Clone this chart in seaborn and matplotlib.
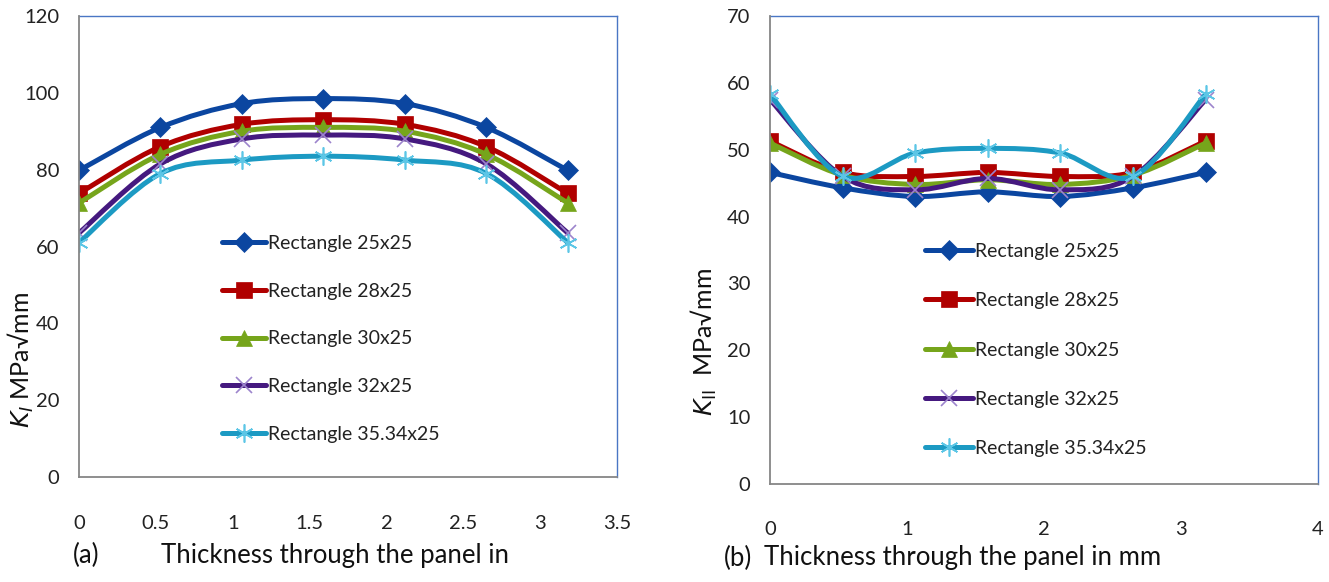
import numpy as np
import matplotlib
matplotlib.use("Agg")
import matplotlib.pyplot as plt
from matplotlib.path import Path
from matplotlib.patches import PathPatch
from matplotlib.lines import Line2D
import seaborn as sns

# thickness positions (mm)
thickness = [0, 0.53, 1.06, 1.59, 2.12, 2.65, 3.18]
series_names = ["Rectangle 25x25", "Rectangle 28x25", "Rectangle 30x25",
                "Rectangle 32x25", "Rectangle 35.34x25"]

# (a) K_I values
k1_25 = [79.8, 91.0, 97.2, 98.5, 97.2, 91.0, 79.8]
k1_28 = [73.8, 86.0, 91.8, 93.0, 91.8, 86.0, 73.8]
k1_30 = [71.3, 84.0, 90.0, 91.0, 90.0, 84.0, 71.3]
k1_32 = [63.5, 81.5, 88.0, 89.0, 88.0, 81.5, 63.5]
k1_35 = [61.0, 79.0, 82.5, 83.5, 82.5, 79.0, 61.0]

# (b) K_II values
k2_25 = [46.6, 44.3, 43.0, 43.7, 43.0, 44.3, 46.6]
k2_28 = [51.3, 46.6, 46.0, 46.6, 46.0, 46.6, 51.3]
k2_30 = [51.0, 46.2, 44.8, 45.5, 44.8, 46.2, 51.0]
k2_32 = [57.5, 46.0, 44.0, 45.7, 44.0, 46.0, 57.5]
k2_35 = [58.3, 46.0, 49.5, 50.2, 49.5, 46.0, 58.3]

line_colors = ["#0B46A0", "#B00000", "#76A51B", "#45197F", "#1C9AC3"]
marker_face = ["#0B46A0", "#B00000", "#76A51B", "#9C84CC", "#5CC6E6"]
markers = ["D", "s", "^", "x", (6, 2, 0)]
marker_sizes = [10, 11, 12, 11, 13]

sns.set_style("white")
plt.rcParams['font.family'] = ['Lato', 'DejaVu Sans']
plt.rcParams['mathtext.fontset'] = 'dejavusans'


def smooth_path(xs, ys):
    # Excel style smoothed line: cubic bezier through each point
    pts = np.column_stack([xs, ys])
    n = len(pts)
    verts = [pts[0]]
    codes = [Path.MOVETO]
    for i in range(n - 1):
        p0 = pts[i - 1] if i > 0 else pts[i]
        p1 = pts[i]
        p2 = pts[i + 1]
        p3 = pts[i + 2] if i + 2 < n else pts[i + 1]
        c1 = p1 + (p2 - p0) / 6.0
        c2 = p2 - (p3 - p1) / 6.0
        verts += [c1, c2, p2]
        codes += [Path.CURVE4] * 3
    return Path(verts, codes)


def draw_panel(ax, data, ymax, ystep, xmax, xstep):
    for i, ys in enumerate(data):
        ax.add_patch(PathPatch(smooth_path(thickness, ys), facecolor="none",
                               edgecolor=line_colors[i], lw=3.6, zorder=2 + i,
                               capstyle="round", joinstyle="round"))
        filled = markers[i] in ("D", "s", "^")
        sns.lineplot(x=thickness, y=ys, ax=ax, linestyle="none", marker=markers[i],
                     markersize=marker_sizes[i],
                     markerfacecolor=marker_face[i],
                     markeredgecolor=marker_face[i],
                     markeredgewidth=0.5 if filled else 1.2,
                     zorder=2.5 + i, sort=False, estimator=None)
    ax.set_xlim(0, xmax)
    ax.set_ylim(0, ymax)
    ax.set_xticks(np.arange(0, xmax + 0.001, xstep))
    ax.set_yticks(np.arange(0, ymax + 0.001, ystep))
    ax.set_xticklabels([f"{v:g}" for v in np.arange(0, xmax + 0.001, xstep)])
    ax.set_xlabel("")
    ax.set_ylabel("")
    for s in ["left", "bottom"]:
        ax.spines[s].set_color("#868686")
        ax.spines[s].set_linewidth(1.3)
        ax.spines[s].set_zorder(10)
    for s in ["top", "right"]:
        ax.spines[s].set_color("#4A76C4")
        ax.spines[s].set_linewidth(1.0)
    ax.tick_params(axis="both", which="major", direction="out", length=5,
                   width=1.0, color="#868686", labelsize=14.5, labelcolor="#222222")
    ax.tick_params(axis="x", pad=22)
    ax.tick_params(axis="y", pad=9)


def add_legend(ax, anchor, hlen, spacing):
    handles = []
    for i, name in enumerate(series_names):
        filled = markers[i] in ("D", "s", "^")
        handles.append(Line2D([], [], color=line_colors[i], lw=3.6, marker=markers[i],
                              markersize=marker_sizes[i], markerfacecolor=marker_face[i],
                              markeredgecolor=marker_face[i],
                              markeredgewidth=0.5 if filled else 1.2))
    ax.legend(handles, series_names, loc="upper left", bbox_to_anchor=anchor,
              bbox_transform=ax.figure.transFigure, frameon=False, fontsize=14,
              handlelength=hlen, handletextpad=0.1, labelspacing=spacing,
              borderpad=0, borderaxespad=0, labelcolor="#222222")


fig = plt.figure(figsize=(13.29, 5.82), dpi=100)
ax1 = fig.add_axes([0.0594, 0.1804, 0.4049, 0.7921])
ax2 = fig.add_axes([0.5794, 0.1684, 0.4123, 0.8041])

draw_panel(ax1, [k1_25, k1_28, k1_30, k1_32, k1_35], 120, 20, 3.5, 0.5)
draw_panel(ax2, [k2_25, k2_28, k2_30, k2_32, k2_35], 70, 10, 4, 1)

add_legend(ax1, (222 / 1329, 1 - 235 / 582), 2.25, 1.58)
add_legend(ax2, (925 / 1329, 1 - 243 / 582), 2.45, 1.66)

fig.text(21 / 1329, 1 - 360 / 582, r"$K_{I}$ MPa√mm", rotation=90, ha="center",
         va="center", fontsize=18, color="#111111")
fig.text(704 / 1329, 1 - 342 / 582, r"$K_{\mathrm{II}}$  MPa√mm", rotation=90,
         ha="center", va="center", fontsize=18, color="#111111")

fig.text(86 / 1329, 1 - 555 / 582, "(a)", ha="center", va="center", fontsize=18.5,
         color="#111111")
fig.text(335 / 1329, 1 - 555 / 582, "Thickness through the panel in", ha="center",
         va="center", fontsize=18.5, color="#111111")
fig.text(738 / 1329, 1 - 558 / 582, "(b)", ha="center", va="center", fontsize=18.5,
         color="#111111")
fig.text(963 / 1329, 1 - 558 / 582, "Thickness through the panel in mm", ha="center",
         va="center", fontsize=18.5, color="#111111")

fig.savefig("out.png", dpi=100)
